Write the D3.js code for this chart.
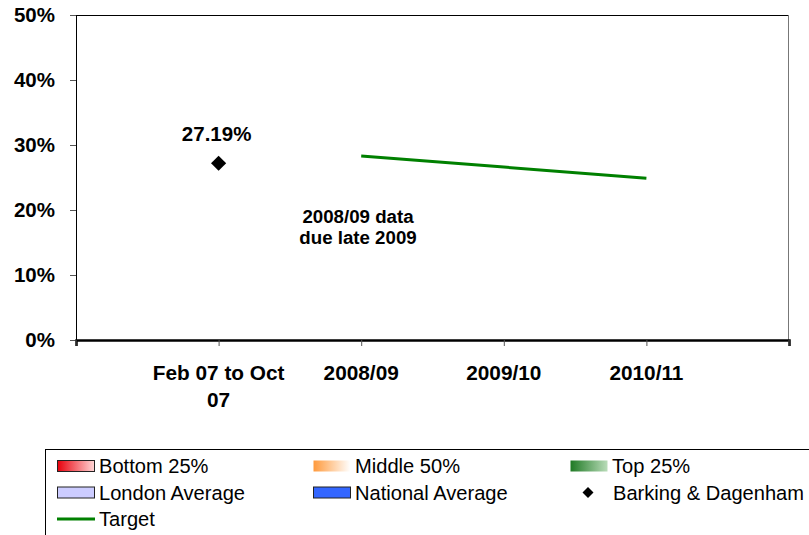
<!DOCTYPE html>
<html>
<head>
<meta charset="utf-8">
<script src="https://cdn.jsdelivr.net/npm/d3@7"></script>
<style>
  body { margin: 0; background: #fff; }
  text { font-family: "Liberation Sans", Arial, sans-serif; }
</style>
</head>
<body>
<div id="chart"></div>
<script>
// categories along the bottom
var categories = ["Feb 07 to Oct 07", "2008/09", "2009/10", "2010/11"];
// Barking & Dagenham actual value
var actualCats = ["Feb 07 to Oct 07"];
var actualVals = [0.2719];
// target line
var targetCats = ["2008/09", "2009/10", "2010/11"];
var targetVals = [0.283, 0.266, 0.249];
var yTicks = [0, 0.1, 0.2, 0.3, 0.4, 0.5];
var legendNames = ["Bottom 25%", "Middle 50%", "Top 25%", "London Average", "National Average", "Barking & Dagenham", "Target"];

var margin = {top: 15, left: 76, right: 20, bottom: 195};
var width = 809, height = 535;
var plotW = 789 - margin.left, plotH = 340 - margin.top;

var svg = d3.select("#chart").append("svg")
    .attr("width", width)
    .attr("height", height);

var defs = svg.append("defs");
function grad(id, c1, c2) {
    var g = defs.append("linearGradient").attr("id", id)
        .attr("x1", "0%").attr("x2", "100%").attr("y1", "0%").attr("y2", "0%");
    g.append("stop").attr("offset", "0%").attr("stop-color", c1);
    g.append("stop").attr("offset", "100%").attr("stop-color", c2);
}
grad("gRed", "#e8000c", "#ffd6d6");
grad("gOrange", "#ff9a3c", "#ffffff");
grad("gGreen", "#1f7a24", "#b9dcb9");

var g = svg.append("g")
    .attr("transform", "translate(" + margin.left + "," + margin.top + ")");

var x = d3.scalePoint()
    .domain(categories)
    .range([0, plotW])
    .padding(1);

var y = d3.scaleLinear()
    .domain([0, 0.5])
    .range([plotH, 0]);

// frame: top and right
g.append("line").attr("x1", 0).attr("x2", plotW).attr("y1", 0.5).attr("y2", 0.5)
    .attr("stroke", "#000").attr("stroke-width", 1);
g.append("line").attr("x1", plotW - 0.5).attr("x2", plotW - 0.5).attr("y1", 0).attr("y2", plotH)
    .attr("stroke", "#777").attr("stroke-width", 1);

// y axis
var yAxis = g.append("g")
    .call(d3.axisLeft(y).tickValues(yTicks).tickFormat(d3.format(".0%")).tickSize(6).tickPadding(15));
yAxis.select(".domain").attr("stroke", "#000");
yAxis.selectAll(".tick line").attr("stroke", "#555");
yAxis.selectAll("text")
    .attr("font-size", 20.5)
    .attr("font-weight", "bold")
    .attr("fill", "#000")
    .attr("font-family", "'Liberation Sans', Arial, sans-serif");

// x axis
var xAxis = g.append("g")
    .attr("transform", "translate(0," + plotH + ")")
    .call(d3.axisBottom(x).tickSize(6).tickSizeOuter(6).tickFormat(""));
xAxis.select(".domain").attr("stroke", "#000").attr("stroke-width", 2.5);
xAxis.selectAll(".tick line").attr("stroke", "#555");
// outer ticks at both ends
xAxis.selectAll(".endtick").data(x.range()).enter().append("line")
    .attr("x1", function(d) { return d; }).attr("x2", function(d) { return d; })
    .attr("y1", 0).attr("y2", 6).attr("stroke", "#555");

// wrapped category labels
function wrap(label) {
    if (label.length > 14) {
        var i = label.lastIndexOf(" ");
        return [label.slice(0, i), label.slice(i + 1)];
    }
    return [label];
}
categories.forEach(function(c) {
    var t = g.append("text")
        .attr("x", x(c))
        .attr("y", plotH + 40)
        .attr("text-anchor", "middle")
        .attr("font-size", 20.8)
        .attr("font-weight", "bold");
    wrap(c).forEach(function(line, i) {
        t.append("tspan").attr("x", x(c)).attr("dy", i === 0 ? 0 : 27).text(line);
    });
});

// target line
var line = d3.line()
    .x(function(d, i) { return x(targetCats[i]); })
    .y(function(d) { return y(d); });
g.append("path")
    .datum(targetVals)
    .attr("d", line)
    .attr("fill", "none")
    .attr("stroke", "#008000")
    .attr("stroke-width", 3);

// actual point
var diamond = d3.symbol().type(d3.symbolSquare).size(115);
g.selectAll(".pt").data(actualVals).enter().append("path")
    .attr("d", diamond)
    .attr("transform", function(d, i) {
        return "translate(" + x(actualCats[i]) + "," + y(d) + ") rotate(45)";
    })
    .attr("fill", "#000");
g.selectAll(".ptlabel").data(actualVals).enter().append("text")
    .attr("x", function(d, i) { return x(actualCats[i]) - 2; })
    .attr("y", function(d) { return y(d) - 22; })
    .attr("text-anchor", "middle")
    .attr("font-size", 20.5)
    .attr("font-weight", "bold")
    .text(function(d) { return d3.format(".2%")(d); });

// note
var note = g.append("text")
    .attr("x", 358 - margin.left)
    .attr("y", 223 - margin.top)
    .attr("text-anchor", "middle")
    .attr("font-size", 18.7)
    .attr("font-weight", "bold");
note.append("tspan").attr("x", 358 - margin.left).text("2008/09 data");
note.append("tspan").attr("x", 358 - margin.left).attr("dy", 21).text("due late 2009");

// legend
var lg = svg.append("g");
lg.append("rect")
    .attr("x", 45.5).attr("y", 449.5)
    .attr("width", 800).attr("height", 120)
    .attr("fill", "#fff").attr("stroke", "#000");

var legendItems = [
    {name: legendNames[0], kind: "rect", fill: "url(#gRed)", stroke: "#222"},
    {name: legendNames[1], kind: "rect", fill: "url(#gOrange)", stroke: "none"},
    {name: legendNames[2], kind: "rect", fill: "url(#gGreen)", stroke: "none"},
    {name: legendNames[3], kind: "rect", fill: "#ccccff", stroke: "#222"},
    {name: legendNames[4], kind: "rect", fill: "#3366ff", stroke: "#222"},
    {name: legendNames[5], kind: "diamond"},
    {name: legendNames[6], kind: "line"}
];
var colX = [57, 313, 570];
var rowY = [466, 492.5, 519];

legendItems.forEach(function(d, i) {
    var cx = colX[i % 3], cy = rowY[Math.floor(i / 3)];
    var it = lg.append("g");
    if (d.kind === "rect") {
        it.append("rect")
            .attr("x", cx + 0.5).attr("y", cy - 5.5)
            .attr("width", 37).attr("height", 11)
            .attr("fill", d.fill).attr("stroke", d.stroke).attr("stroke-width", 1);
    } else if (d.kind === "diamond") {
        it.append("path")
            .attr("d", d3.symbol().type(d3.symbolSquare).size(60))
            .attr("transform", "translate(" + (cx + 18) + "," + cy + ") rotate(45)")
            .attr("fill", "#000");
    } else {
        it.append("line")
            .attr("x1", cx).attr("x2", cx + 38)
            .attr("y1", cy).attr("y2", cy)
            .attr("stroke", "#008000").attr("stroke-width", 3);
    }
    it.append("text")
        .attr("x", d.kind === "diamond" ? cx + 43 : cx + 42)
        .attr("y", cy)
        .attr("dy", "0.35em")
        .attr("font-size", 20.1)
        .attr("fill", "#000")
        .text(d.name);
});
</script>
</body>
</html>
